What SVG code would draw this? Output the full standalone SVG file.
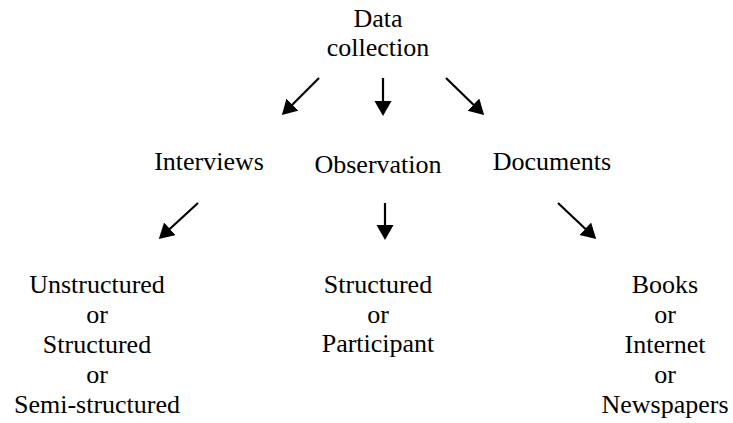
<svg xmlns="http://www.w3.org/2000/svg" width="733" height="423" viewBox="0 0 733 423">
  <style>
    .lbl { font-family: "Liberation Serif", "Times New Roman", serif; font-size: 26px; fill: #000; text-anchor: middle; }
    .conn line { stroke: #000; stroke-width: 2.2; marker-end: url(#head); }
  </style>
  <defs>
    <marker id="head" markerUnits="userSpaceOnUse" markerWidth="16" markerHeight="18" refX="12" refY="8.5" orient="auto">
      <path d="M0,0 L15,8.5 L0,17 Z" fill="#000"/>
    </marker>
  </defs>
  <rect width="733" height="423" fill="#fff"/>

  <g id="data-collection">
    <text class="lbl" x="378" y="27">Data</text>
    <text class="lbl" x="378" y="56">collection</text>
  </g>

  <g id="interviews">
    <text class="lbl" x="209" y="170">Interviews</text>
  </g>
  <g id="observation">
    <text class="lbl" x="378" y="173">Observation</text>
  </g>
  <g id="documents">
    <text class="lbl" x="552" y="170">Documents</text>
  </g>

  <g id="interview-types">
    <text class="lbl" x="97" y="293">Unstructured</text>
    <text class="lbl" x="97" y="323">or</text>
    <text class="lbl" x="97" y="353">Structured</text>
    <text class="lbl" x="97" y="383">or</text>
    <text class="lbl" x="97" y="413">Semi-structured</text>
  </g>

  <g id="observation-types">
    <text class="lbl" x="378" y="293">Structured</text>
    <text class="lbl" x="378" y="323">or</text>
    <text class="lbl" x="378" y="352">Participant</text>
  </g>

  <g id="document-types">
    <text class="lbl" x="665" y="293">Books</text>
    <text class="lbl" x="665" y="323">or</text>
    <text class="lbl" x="665" y="353">Internet</text>
    <text class="lbl" x="665" y="383">or</text>
    <text class="lbl" x="665" y="413">Newspapers</text>
  </g>

  <g id="connectors" class="conn">
    <line x1="319" y1="78" x2="284" y2="113"/>
    <line x1="383" y1="78" x2="383" y2="113"/>
    <line x1="446" y1="78" x2="482" y2="113"/>
    <line x1="198" y1="203" x2="161" y2="237"/>
    <line x1="385" y1="203" x2="385" y2="237"/>
    <line x1="558" y1="203" x2="594" y2="237"/>
  </g>
</svg>
